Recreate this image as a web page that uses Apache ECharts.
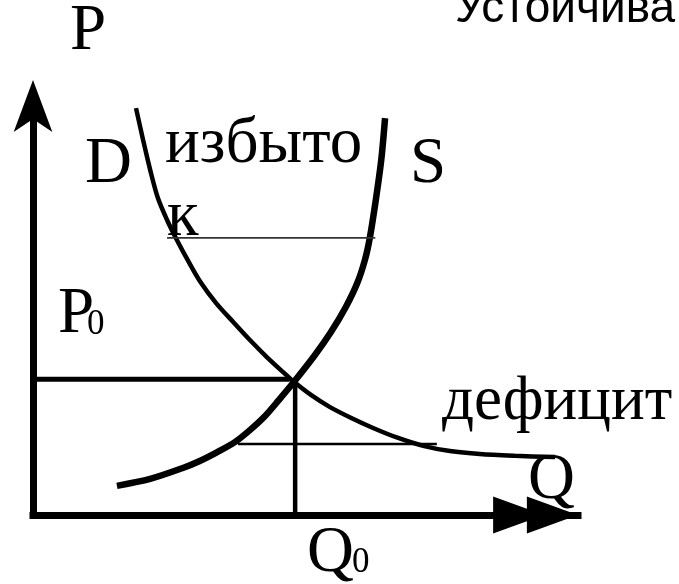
<!DOCTYPE html>
<html>
<head>
<meta charset="utf-8">
<script src="https://cdn.jsdelivr.net/npm/echarts@6/dist/echarts.min.js"></script>
<style>
html, body { margin: 0; padding: 0; background: #fff; }
#chart { width: 679px; height: 584px; }
</style>
</head>
<body>
<div id="chart"></div>
<script>
// demand curve D (quantity / price, arbitrary units)
var demandQ = [18.9, 20.2, 21.5, 22.9, 24.6, 26.4, 28.6, 30.6, 33.6, 36.7, 39.8, 42.9,
    46.1, 47.7, 51.0, 54.5, 58.4, 62.4, 67.0, 71.6, 76.5, 82.0, 88.4, 95.8];
var demandP = [93.5, 86.2, 79.3, 72.9, 67.8, 63.2, 58.1, 53.8, 48.7, 44.4, 40.2, 36.3,
    32.6, 30.8, 27.6, 24.8, 22.3, 20.0, 17.7, 15.9, 14.7, 14.0, 13.6, 13.3];
// supply curve S
var supplyQ = [15.4, 21.5, 27.5, 30.6, 33.9, 37.1, 39.8, 42.4, 45.1, 47.9, 51.7, 54.7,
    57.4, 59.5, 60.9, 61.8, 62.9, 63.9, 64.6];
var supplyP = [6.7, 8.3, 10.8, 12.4, 14.5, 16.8, 19.5, 22.5, 26.4, 30.6, 36.7, 42.1,
    47.8, 53.3, 58.6, 63.7, 72.4, 81.6, 91.2];
// equilibrium
var p0 = 31.2, q0 = 48.1, p0End = 47.1;
// surplus (избыток) and deficit (дефицит) levels
var surplusP = 63.7, surplusQ = [24.6, 62.8];
var deficitP = 16.3, deficitQ = [37.6, 74.1];
// arrowheads on Q axis
var arrowQ = [89.1, 95.3];

function pairs(xs, ys) {
    var out = [];
    for (var i = 0; i < xs.length; i++) out.push([xs[i], ys[i]]);
    return out;
}

var serif = '"Liberation Serif", "Times New Roman", serif';

function label(text, x, y, size, fam) {
    return {
        type: 'text',
        x: x,
        y: y,
        style: {
            text: text,
            font: size + 'px ' + (fam || serif),
            fill: '#000',
            align: 'left',
            verticalAlign: 'middle'
        }
    };
}

var option = {
    backgroundColor: '#fff',
    animation: false,
    grid: { left: 33, right: 101, top: 119, bottom: 69 },
    xAxis: {
        type: 'value', min: 0, max: 100,
        axisLine: { show: true, lineStyle: { color: '#000', width: 7, cap: 'square' } },
        axisTick: { show: false }, axisLabel: { show: false }, splitLine: { show: false }
    },
    yAxis: {
        type: 'value', min: 0, max: 91,
        axisLine: {
            show: true, onZero: false,
            // arrow tip sits at the symbol anchor, notch 3/4 down
            symbol: ['none', 'arrow'], symbolSize: [29, 52], symbolOffset: [0, 39],
            lineStyle: { color: '#000', width: 7, cap: 'square' }
        },
        axisTick: { show: false }, axisLabel: { show: false }, splitLine: { show: false }
    },
    series: [
        {
            type: 'line', name: 'D', smooth: 0.3, symbol: 'none', clip: false,
            lineStyle: { color: '#000', width: 4.5 },
            data: pairs(demandQ, demandP)
        },
        {
            type: 'line', name: 'S', smooth: 0.3, symbol: 'none', clip: false,
            lineStyle: { color: '#000', width: 6.5 },
            data: pairs(supplyQ, supplyP)
        },
        {
            type: 'line', symbol: 'none', clip: false,
            lineStyle: { color: '#000', width: 5 },
            data: [[0, p0], [p0End, p0]]
        },
        {
            type: 'line', symbol: 'none', clip: false,
            lineStyle: { color: '#000', width: 4.5 },
            data: [[q0, 0], [q0, p0 - 0.6]]
        },
        {
            type: 'line', symbol: 'none', clip: false,
            lineStyle: { color: '#333', width: 1.8 },
            data: [[surplusQ[0], surplusP], [surplusQ[1], surplusP]]
        },
        {
            type: 'line', symbol: 'none', clip: false,
            lineStyle: { color: '#000', width: 2.5 },
            data: [[deficitQ[0], deficitP], [deficitQ[1], deficitP]]
        },
        {
            type: 'scatter', symbol: 'triangle', symbolSize: [37, 51], symbolRotate: -90,
            itemStyle: { color: '#000', opacity: 1 }, clip: false, z: 5,
            data: arrowQ.map(function (q) { return [q, 0]; })
        }
    ],
    graphic: [
        label('Устойчива', 455, 9, 46, '"Liberation Sans", Arial, sans-serif'),
        label('P', 70, 32, 65),
        label('D', 85, 165, 65),
        label('избыто', 165, 145, 65),
        label('к', 167, 218, 65),
        label('S', 410, 165, 65),
        label('P', 58, 315, 65),
        label('0', 87, 325, 35),
        label('дефицит', 442, 402, 63),
        label('Q', 528, 481, 65),
        label('Q', 307, 554, 65),
        label('0', 352, 563, 35)
    ]
};

var chart = echarts.init(document.getElementById('chart'), null, { renderer: 'canvas' });
chart.setOption(option);
</script>
</body>
</html>
